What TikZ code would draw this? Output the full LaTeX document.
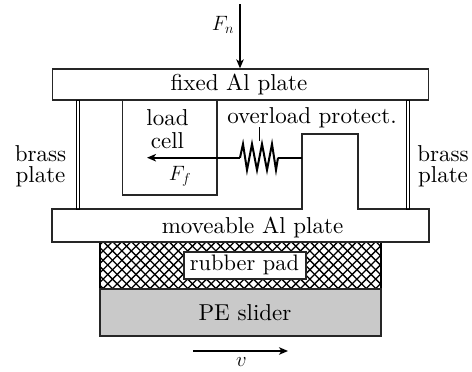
\documentclass[tikz,border=0pt]{standalone}
\usetikzlibrary{arrows.meta}
\font\lmten="[lmroman10-regular]:mapping=tex-text" at 23pt
\font\lmsm="[lmroman10-regular]:mapping=tex-text" at 22.4pt
\begin{document}
\begin{tikzpicture}[x=1pt,y=-1pt,
  lbl/.style={font=\lmten,inner sep=0pt,align=center},
  mth/.style={font=\fontsize{21}{25}\selectfont,inner sep=0pt},
  ln/.style={line width=1.3pt,draw=black!85},
  arr/.style={line width=2.2pt,-{Stealth[length=9pt,width=7.5pt,inset=2.5pt]}}]
\useasboundingbox (0,0) rectangle (472,372);
% crosshatch
\begin{scope}
\clip (100,242) rectangle (381,289);
\foreach \k in {-40,-30.6,...,800}{
  \draw[line width=1.3pt] (\k,230) -- (\k+70,300);
  \draw[line width=1.3pt] (\k+70,230) -- (\k,300);
}
\end{scope}
\draw[line width=1.8pt] (100,242) rectangle (381,289);
\node[ln,draw,fill=white,minimum width=122pt,minimum height=27pt,inner sep=0pt] (pad) at (245,265.5) {};
\node[inner sep=0pt,font=\lmsm] (padtext) at (244.5,265) {rubber pad};
\node[ln,draw,fill=black!21,minimum width=281pt,minimum height=47pt,inner sep=0pt] (slider) at (240.5,312.5) {};
\node[lbl] (slidertext) at (245,312.5) {PE slider};
% plates
\node[ln,draw,minimum width=375.5pt,minimum height=31pt,inner sep=0pt] (fixed) at (240.5,84.5) {};
\node[lbl] (fixedtext) at (239,84.5) {fixed Al plate};
\draw[ln] (302,209) -- (52,209) -- (52,242) -- (429,242) -- (429,209) -- (358,209) -- (358,134) -- (302,134) -- cycle;
\fill[white] (303,207.5) rectangle (357,210.5);
\node[lbl] (moveable) at (252.5,227.5) {moveable Al plate};
% brass
\draw[line width=1pt] (76.8,100) rectangle (79.3,209);
\draw[line width=1pt] (406.6,100) rectangle (409.2,209);
% load cell
\draw[ln] (122.7,100) -- (122.7,195) -- (217,195) -- (217,100);
\node[lbl] (load) at (167.5,118) {load};
\node[lbl] (cell) at (167.5,141) {cell};
\node[mth] (ff) at (180,176) {$F_f$};
% spring
\coordinate (wall) at (302,157.7);
\coordinate (tip) at (147,157.7);
\draw[line width=1.6pt] (wall) -- (278,157.7);
\draw[line width=2pt,line join=miter] (278,157.7) -- (276,170) -- (272,144) -- (267,170) -- (262,144) -- (257,170) -- (252,144) -- (247,170) -- (243,144) -- (240,157.7);
\draw[arr] (240,157.7) -- (tip);
\draw[line width=1pt] (259,127) -- (259,141);
\node[lbl] (over) at (312,117.5) {overload protect.};
\node[lbl] at (40.5,153.5) {brass};
\node[lbl] at (40.5,176.5) {plate};
\node[lbl] at (443,153.5) {brass};
\node[lbl] at (443,176.5) {plate};
% forces
\coordinate (ntop) at (240,4);
\draw[arr] (ntop) -- (fixed.north -| ntop);
\node[mth] (fn) at (223,25) {$F_n$};
\coordinate (va) at (193,351);
\coordinate (vb) at (288,351);
\draw[arr] (va) -- (vb);
\node[mth] (v) at (241.5,362) {$v$};
\end{tikzpicture}
\end{document}
